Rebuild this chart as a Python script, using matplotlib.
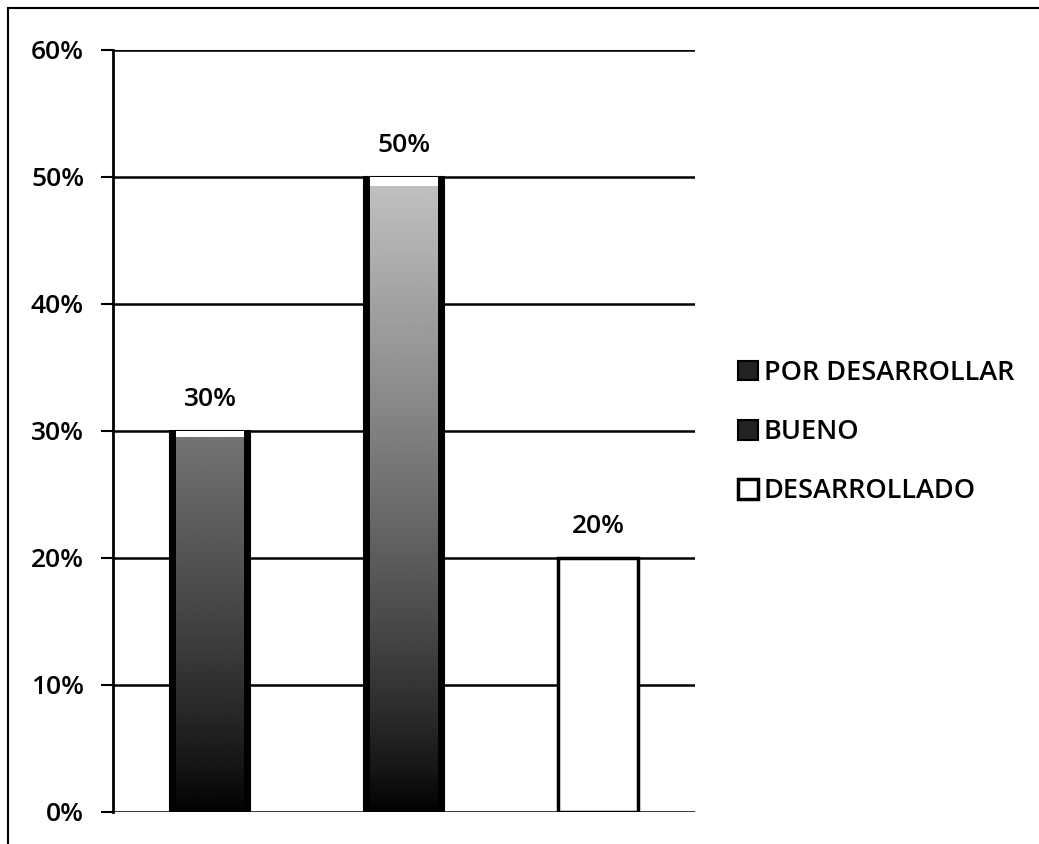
import matplotlib.pyplot as plt
import numpy as np
from matplotlib.patches import Rectangle, Patch

categorias = ['POR DESARROLLAR', 'BUENO', 'DESARROLLADO']
valores = [30, 50, 20]
etiquetas = ['30%', '50%', '20%']
ticks_y = [0, 10, 20, 30, 40, 50, 60]

plt.rcParams['font.family'] = ['Open Sans', 'DejaVu Sans']
plt.rcParams['font.weight'] = 'semibold'

fig = plt.figure(figsize=(10.39, 8.44), dpi=100)
# marco exterior de la figura
fig.patches.append(Rectangle((0.008, -0.01), 1.1, 1.0, transform=fig.transFigure,
                             fill=False, edgecolor='black', linewidth=1.5))

ax = fig.add_axes([0.109, 0.038, 0.560, 0.903])
x = np.arange(len(valores))
ancho = 0.41

ax.set_xlim(-0.5, len(valores) - 0.5)
ax.set_ylim(0, 60)
ax.set_yticks(ticks_y)
ax.set_yticklabels([f'{t}%' for t in ticks_y], fontsize=19)
ax.tick_params(axis='y', length=9, width=1.5, pad=12, direction='out')
ax.set_xticks([])
for lado in ['top', 'right', 'bottom']:
    ax.spines[lado].set_visible(False)
ax.spines['left'].set_linewidth(2)
ax.yaxis.grid(True, color='black', linewidth=1.8)
ax.set_axisbelow(True)

grad = np.linspace(0, 1, 256).reshape(-1, 1)
for i, (v, lab) in enumerate(zip(valores, etiquetas)):
    if i < 2:
        barra = ax.bar(x[i], v, width=ancho, color='black', edgecolor='black',
                       linewidth=1.5, zorder=2)[0]
        top = 0.45 if v < 40 else 0.75
        colores = plt.cm.gray(grad ** 0.8 * top)
        img = ax.imshow(colores, extent=(x[i] - ancho / 2 + 0.03, x[i] + ancho / 2 - 0.03, 0, v * 0.985),
                        origin='lower', aspect='auto', zorder=3, interpolation='bilinear')
        img.set_clip_path(barra)
        ax.add_patch(Rectangle((x[i] - ancho / 2 + 0.03, v * 0.985), ancho - 0.06, v * 0.015,
                               facecolor='white', edgecolor='none', zorder=4))
    else:
        ax.bar(x[i], v, width=ancho, color='white', edgecolor='black',
               linewidth=2.5, zorder=2)
    ax.text(x[i], v + 1.5, lab, ha='center', va='bottom', fontsize=19)

ax.set_aspect('auto')

manejadores = [Patch(facecolor='#222222', edgecolor='black', linewidth=1.5),
               Patch(facecolor='#222222', edgecolor='black', linewidth=1.5),
               Patch(facecolor='white', edgecolor='black', linewidth=2.5)]
fig.legend(manejadores, categorias, loc='center left', bbox_to_anchor=(0.700, 0.488),
           frameon=False, fontsize=19.5, handlelength=0.75, handleheight=0.75,
           handletextpad=0.2, labelspacing=1.15, borderaxespad=0)

fig.savefig('out.png', dpi=100)
